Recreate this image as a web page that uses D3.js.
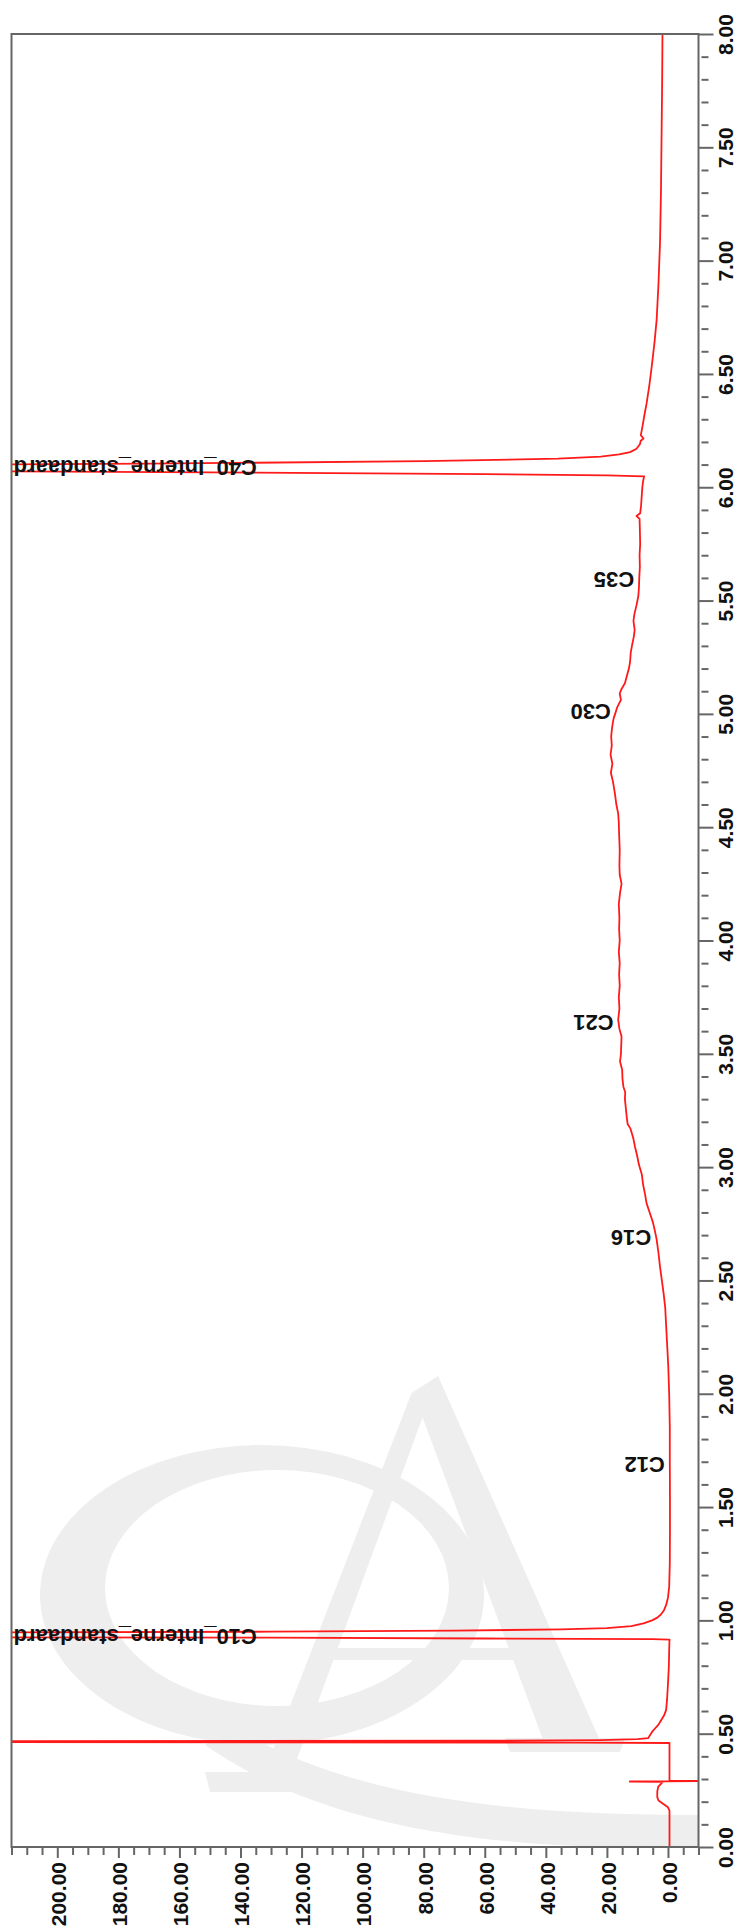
<!DOCTYPE html>
<html><head><meta charset="utf-8">
<script src="https://cdn.jsdelivr.net/npm/d3@7/dist/d3.min.js"></script>
<style>html,body{margin:0;padding:0;background:#fff;}svg{display:block}</style>
</head><body>
<svg id="chart" width="736" height="1930"></svg>
<script>
// ---- data (retention time in min, signal) ----
const times = [0,0.08,0.16,0.175,0.19,0.205,0.22,0.245,0.265,0.277,0.286,0.289,0.291,0.293,0.35,0.42,0.459,0.461,0.463,0.465,0.467,0.469,0.472,0.476,0.48,0.495,0.51,0.525,0.54,0.56,0.58,0.605,0.65,0.72,0.80,0.87,0.915,0.917,0.920,0.924,0.926,0.935,0.946,0.950,0.955,0.960,0.966,0.975,0.987,1.0,1.012,1.025,1.045,1.068,1.10,1.15,1.25,1.40,1.55,1.70,1.85,2.00,2.12,2.20,2.30,2.38,2.44,2.50,2.56,2.62,2.68,2.72,2.755,2.80,2.84,2.88,2.92,2.97,3.01,3.05,3.09,3.13,3.17,3.19,3.22,3.26,3.30,3.33,3.355,3.39,3.43,3.466,3.50,3.54,3.576,3.61,3.65,3.70,3.75,3.80,3.85,3.90,3.95,4.00,4.05,4.10,4.16,4.21,4.25,4.29,4.33,4.40,4.47,4.52,4.56,4.60,4.65,4.70,4.74,4.78,4.82,4.86,4.90,4.94,4.98,5.00,5.03,5.062,5.09,5.11,5.135,5.17,5.20,5.23,5.27,5.30,5.34,5.37,5.41,5.44,5.48,5.52,5.56,5.60,5.65,5.70,5.75,5.81,5.86,5.873,5.885,5.92,5.96,6.00,6.03,6.048,6.052,6.058,6.066,6.072,6.085,6.098,6.104,6.115,6.126,6.135,6.145,6.155,6.17,6.19,6.205,6.215,6.23,6.25,6.28,6.32,6.37,6.45,6.535,6.64,6.74,6.90,7.08,7.30,7.545,7.80,8.00];
const signal = [-0.5,-0.5,-0.5,0,1.5,3.1,3.5,3.5,3.2,2.4,1.8,12.5,-16,-0.5,-0.5,-0.5,-0.5,30,250,600,250,60,22,10,6.5,5.8,5.1,4.1,3.1,2.2,1.3,0.6,0.3,0.0,-0.3,-0.4,-0.5,5,60,130,250,500,250,130,70,35,20,12,8,5.2,3.5,2.4,1.3,0.6,0.0,-0.4,-0.6,-0.65,-0.65,-0.6,-0.6,-0.4,-0.1,0.2,0.6,0.9,1.4,2.0,2.6,3.1,3.7,4.3,4.9,6.0,7.0,7.5,8.1,8.6,9.5,10.1,10.8,11.4,12.3,13.2,13.5,13.8,14.1,14.0,14.6,14.9,15.0,15.7,15.4,15.3,15.2,15.9,16.3,15.9,16.1,15.8,16.0,15.8,16.1,15.8,16.0,15.9,16.1,15.7,15.2,15.8,15.9,15.8,16.0,16.1,16.3,16.9,17.4,18.0,18.7,18.2,18.8,18.4,18.6,18.3,17.8,17.3,16.6,15.4,15.8,15.2,14.1,13.4,12.8,12.4,12.2,11.8,11.2,10.9,11.3,11.0,10.3,9.7,9.5,9.4,9.2,9.3,9.1,9.2,9.3,10.3,9.1,8.8,8.6,8.4,8.1,7.8,20,60,150,250,450,250,170,80,36,22,16,12.4,10.3,9.2,8.9,8.0,8.9,8.6,8.2,7.7,7.0,6.1,5.3,4.4,3.7,3.1,2.6,2.3,2.1,1.9,1.8];

const timeTickLabels = [0,0.5,1,1.5,2,2.5,3,3.5,4,4.5,5,5.5,6,6.5,7,7.5,8];
const valueTickLabels = [0,20,40,60,80,100,120,140,160,180,200];
const peakNames = ["C10_Interne_standaard","C12","C16","C21","C30","C35","C40_Interne_standaard"];
const peakTimes = [0.929,1.686,2.69,3.636,5.01,5.59,6.085];

// ---- layout ----
const plotL = 11.5, plotR = 698.5, plotT = 34, plotB = 1847;
const tScale = d3.scaleLinear().domain([0, 8]).range([plotB, plotT]);
const vScale = d3.scaleLinear().domain([-10, 215]).range([plotR, plotL]);
const fmt = d3.format(".2f");
const axisColor = "#666";
const font = "'Liberation Sans', Arial, Helvetica, sans-serif";

const svg = d3.select("#chart");
svg.append("rect").attr("width",736).attr("height",1930).attr("fill","#fff");

svg.append("defs").append("clipPath").attr("id","plotclip")
  .append("rect").attr("x",plotL).attr("y",plotT).attr("width",plotR-plotL).attr("height",plotB-plotT);

// ---- watermark (decorative logo) ----
const wm = svg.append("g").attr("clip-path","url(#plotclip)").attr("fill","#eeeeee");
function ell(cx,cy,rx,ry){return `M${cx-rx},${cy} a${rx},${ry} 0 1,0 ${2*rx},0 a${rx},${ry} 0 1,0 ${-2*rx},0 Z`;}
wm.append("path").attr("fill-rule","evenodd")
  .attr("d", ell(262,1595,222,150) + ell(277,1588,172,118));
wm.append("path").attr("d","M230,1725 C350,1800 520,1815 700,1815 L700,1848 C500,1850 330,1832 205,1745 Z");
wm.append("path").attr("d","M413,1392 L438,1376 L602,1745 L545,1745 Z");
wm.append("path").attr("d","M412,1392 L426,1408 L290,1778 L262,1778 Z");
wm.append("path").attr("d","M205,1772 L335,1772 L330,1792 L210,1792 Z");
wm.append("path").attr("d","M505,1738 L625,1738 L620,1752 L510,1752 Z");
wm.append("path").attr("d","M318,1648 L538,1648 L540,1660 L314,1660 Z");

// ---- trace ----
const pts = times.map((t,i)=>({t, v: signal[i]}));
const line = d3.line().x(d=>vScale(d.v)).y(d=>tScale(d.t));
svg.append("g").attr("clip-path","url(#plotclip)")
  .append("path").datum(pts).attr("d",line)
  .attr("fill","none").attr("stroke","#ff1a1a").attr("stroke-width",1.8).attr("stroke-linejoin","round");

// ---- frame ----
svg.append("rect").attr("x",plotL).attr("y",plotT).attr("width",plotR-plotL).attr("height",plotB-plotT)
  .attr("fill","none").attr("stroke",axisColor).attr("stroke-width",2);

// ---- time axis (right) ----
const minorT = d3.range(0, 81).map(i=>i/10).filter(t=>Math.abs(t*2-Math.round(t*2))>1e-6);
const minorTAxis = svg.append("g").attr("transform",`translate(${plotR+3},0)`)
  .call(d3.axisRight(tScale).tickValues(minorT).tickSize(7).tickFormat(""));
const majorTAxis = svg.append("g").attr("transform",`translate(${plotR},0)`)
  .call(d3.axisRight(tScale).tickValues(timeTickLabels).tickSize(15).tickFormat(fmt));
[minorTAxis, majorTAxis].forEach(g=>{
  g.select(".domain").remove();
  g.selectAll("line").attr("stroke",axisColor).attr("stroke-width",2);
});
majorTAxis.selectAll("text")
  .attr("x",null).attr("dy","0.35em").attr("text-anchor","middle")
  .attr("transform","translate(27,0) rotate(-90)")
  .attr("font-family",font).attr("font-size",21).attr("font-weight","bold").attr("fill","#111");

// ---- value axis (bottom) ----
const minorV = d3.range(-10, 216, 5).filter(v=>v%20!==0);
const minorVAxis = svg.append("g").attr("transform",`translate(0,${plotB})`)
  .call(d3.axisBottom(vScale).tickValues(minorV).tickSize(8).tickFormat(""));
const majorVAxis = svg.append("g").attr("transform",`translate(0,${plotB})`)
  .call(d3.axisBottom(vScale).tickValues(valueTickLabels).tickSize(11).tickFormat(fmt));
[minorVAxis, majorVAxis].forEach(g=>{
  g.select(".domain").remove();
  g.selectAll("line").attr("stroke",axisColor).attr("stroke-width",2);
});
majorVAxis.selectAll("text")
  .attr("y",null).attr("dy","0.35em").attr("text-anchor","end")
  .attr("transform","translate(1,15) rotate(-90)")
  .attr("font-family",font).attr("font-size",21).attr("font-weight","bold").attr("fill","#111");

// ---- peak labels ----
const bis = d3.bisector(d=>d.t).left;
function valueAt(t){
  const i = bis(pts, t);
  if (i<=0) return pts[0].v;
  if (i>=pts.length) return pts[pts.length-1].v;
  const a = pts[i-1], b = pts[i];
  return a.v + (b.v-a.v)*(t-a.t)/(b.t-a.t);
}
const vMax = vScale.domain()[1];
svg.append("g").selectAll("text").data(peakNames).join("text")
  .text(d=>d)
  .each(function(d,i){
    const t = peakTimes[i];
    const v = valueAt(t);
    const offscale = v > vMax;
    const x = offscale ? vScale(vMax) + 2 : vScale(v) - 5;
    d3.select(this)
      .attr("text-anchor", offscale ? "end" : "start")
      .attr("transform", `translate(${x},${tScale(t)}) rotate(180)`);
  })
  .attr("dy","0.35em")
  .attr("font-family",font).attr("font-size",22).attr("font-weight","bold").attr("fill","#111");
</script>
</body></html>
